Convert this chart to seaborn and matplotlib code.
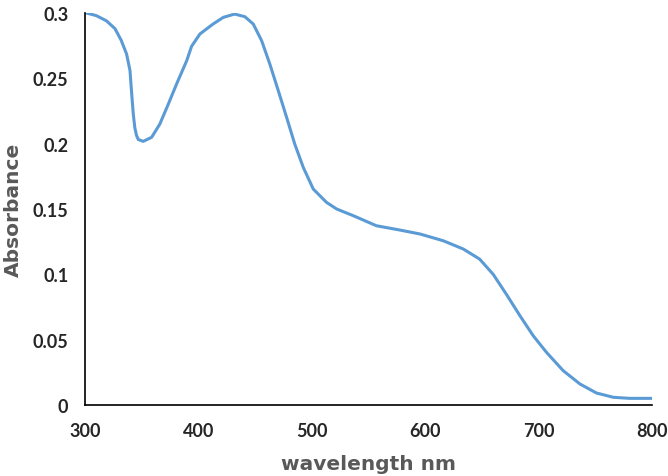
import numpy as np
import pandas as pd
import matplotlib
matplotlib.use('Agg')
import matplotlib.pyplot as plt
import seaborn as sns

# values
wavelength = [300, 310, 319, 326.5, 332, 336.7, 339.7, 341, 342.6, 344, 345.5, 347, 351.4,
              358.8, 366, 373.5, 380.8, 389.7, 394, 401.4, 413, 422, 432, 441, 448.4,
              455.8, 463, 470.5, 477.8, 485, 492.5, 501.3, 513, 522, 536.6, 557, 577.8,
              595.4, 616, 633.6, 648, 660, 671.8, 683.6, 695.3, 707, 721.7, 736.5, 751,
              766, 780.6, 800]
absorbance = [0.3003, 0.298, 0.294, 0.288, 0.279, 0.2686, 0.256, 0.2405, 0.2227, 0.212,
              0.2062, 0.2032, 0.2018, 0.2049, 0.215, 0.2303, 0.2457, 0.2635, 0.2745, 0.284,
              0.2916, 0.2967, 0.2992, 0.2972, 0.2916, 0.2788, 0.261, 0.2405, 0.2202,
              0.1997, 0.1819, 0.1653, 0.1551, 0.150, 0.1449, 0.1372, 0.1339, 0.1309,
              0.1257, 0.1194, 0.1117, 0.100, 0.0845, 0.0683, 0.053, 0.0403, 0.0263,
              0.0161, 0.0092, 0.0059, 0.0051, 0.0051]

xticks = [300, 400, 500, 600, 700, 800]
yticks = [0, 0.05, 0.1, 0.15, 0.2, 0.25, 0.3]
ytick_labels = ['0', '0.05', '0.1', '0.15', '0.2', '0.25', '0.3']

df = pd.DataFrame({'wavelength': wavelength, 'absorbance': absorbance})

sns.set_style('white')
plt.rcParams['font.family'] = ['Lato', 'DejaVu Sans']

fig = plt.figure(figsize=(6.68, 4.77), dpi=100)
ax = fig.add_axes([0.1272, 0.1488, 0.8488, 0.8218])

sns.lineplot(data=df, x='wavelength', y='absorbance', ax=ax, color='#5B9BD5',
             linewidth=2.2, solid_joinstyle='round', solid_capstyle='round')

ax.set_xlim(300, 800)
ax.set_ylim(0, 0.3)
ax.set_xticks(xticks)
ax.set_xticklabels([str(t) for t in xticks], fontsize=13, fontweight='bold')
ax.set_yticks(yticks)
ax.set_yticklabels(ytick_labels, fontsize=13, fontweight='bold')
ax.tick_params(axis='both', length=0)
ax.tick_params(axis='x', pad=12)
ax.tick_params(axis='y', pad=12)

for side in ['top', 'right']:
    ax.spines[side].set_visible(False)
for side in ['left', 'bottom']:
    ax.spines[side].set_color('black')
    ax.spines[side].set_linewidth(1.2)

ax.set_xlabel('wavelength nm', fontsize=14.5, fontweight='bold', color='#595959',
              family='DejaVu Sans', labelpad=11)
ax.set_ylabel('Absorbance', fontsize=14.5, fontweight='bold', color='#595959',
              family='DejaVu Sans', labelpad=7)

fig.savefig('out.png', dpi=100)
